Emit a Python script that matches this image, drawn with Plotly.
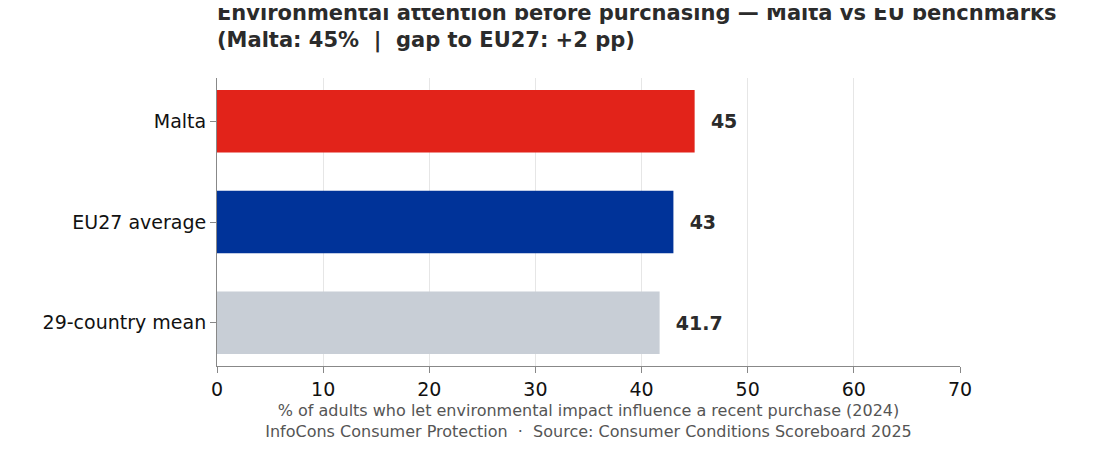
import plotly.graph_objects as go

categories = ["29-country mean", "EU27 average", "Malta"]
values = [41.7, 43, 45]
labels = ["  41.7", "  43", "  45"]
colors = ["#c8ced6", "#003399", "#e2231a"]

fig = go.Figure(go.Bar(
    x=values, y=categories, orientation="h",
    marker=dict(color=colors, line=dict(width=0)),
    width=0.62,
    text=labels, textposition="outside", cliponaxis=False,
    textfont=dict(size=19, color="#2b2b2b", family="DejaVu Sans", weight="bold"),
))

fig.update_layout(
    width=1101, height=456,
    margin=dict(l=209, r=149, t=70, b=98, autoexpand=False),
    paper_bgcolor="white", plot_bgcolor="white",
    font=dict(family="DejaVu Sans", size=19, color="#111"),
    showlegend=False,
    title=dict(
        text="<b>Environmental attention before purchasing — Malta vs EU benchmarks<br>(Malta: 45%  |  gap to EU27: +2 pp)</b>",
        x=209/1101, xanchor="left", y=1 - 12/456, yanchor="top",
        font=dict(size=21, color="#2b2b2b"),
    ),
    xaxis=dict(
        range=[0, 70], dtick=10, showgrid=True, gridcolor="#e6e6e6",
        showline=True, linecolor="#888", ticks="outside", ticklen=6, tickcolor="#888",
        zeroline=False, automargin=False,
        title=dict(
            text="% of adults who let environmental impact influence a recent purchase (2024)<br>InfoCons Consumer Protection  ·  Source: Consumer Conditions Scoreboard 2025",
            font=dict(size=16, color="#555"), standoff=6,
        ),
    ),
    yaxis=dict(
        showline=True, linecolor="#888", ticks="outside", ticklen=6, tickcolor="#888",
        showgrid=False, range=[-0.43, 2.43], automargin=False,
    ),
)

fig.write_html("out.html")
